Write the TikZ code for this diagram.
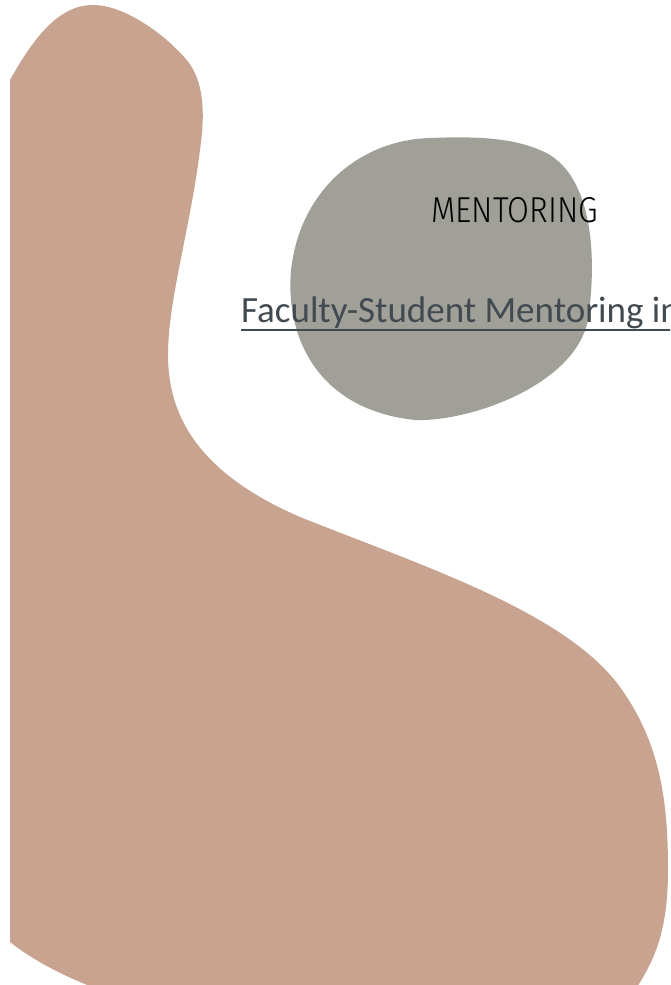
\documentclass[tikz,border=0pt]{standalone}
\usepackage{fontspec}
\usepackage{xcolor}
\usetikzlibrary{positioning}
\setmainfont{Carlito}
\newfontfamily\headfont{Fira Sans Light}[FakeStretch=0.88]
\definecolor{clay}{RGB}{200,164,144}
\definecolor{stone}{RGB}{160,160,152}
\definecolor{ink}{RGB}{64,74,80}

\begin{document}
\begin{tikzpicture}[
    x=1pt, y=-1pt,
    blob/.style={draw=none},
    title/.style={anchor=base west, inner sep=0pt, font=\headfont\fontsize{36}{40}\selectfont, text=black},
    link/.style={anchor=base west, inner sep=0pt, font=\fontsize{37}{42}\selectfont, text=ink}
]

\useasboundingbox (0,0) rectangle (670,985);
\clip (0,0) rectangle (670,985);

% background shapes
\fill[blob, clay] (10,80) .. controls (35,35) and (60,5) .. (93,5)
    .. controls (125,5) and (165,35) .. (185,58)
    .. controls (205,80) and (205,115) .. (200,150)
    .. controls (190,230) and (168,300) .. (168,355)
    .. controls (168,430) and (215,480) .. (300,517)
    .. controls (420,565) and (560,610) .. (617,683)
    .. controls (660,740) and (668,800) .. (668,870)
    .. controls (668,930) and (655,960) .. (635,990)
    -- (100,990) .. controls (60,975) and (30,958) .. (10,942) -- cycle;

\fill[blob, stone] (430,138) .. controls (360,140) and (300,190) .. (291,270)
    .. controls (285,340) and (320,410) .. (415,420)
    .. controls (470,422) and (575,385) .. (588,320)
    .. controls (598,250) and (590,180) .. (550,155)
    .. controls (520,138) and (480,136) .. (430,138) -- cycle;

% texts
\node[title] (mentoring) at (431,222) {MENTORING};
\node[link] (faculty) at (241,322) {Faculty-Student Mentoring in};
\draw[ink, line width=1.8pt] ([yshift=-8pt]faculty.base west) -- ([yshift=-8pt]faculty.base east);

\end{tikzpicture}
\end{document}
